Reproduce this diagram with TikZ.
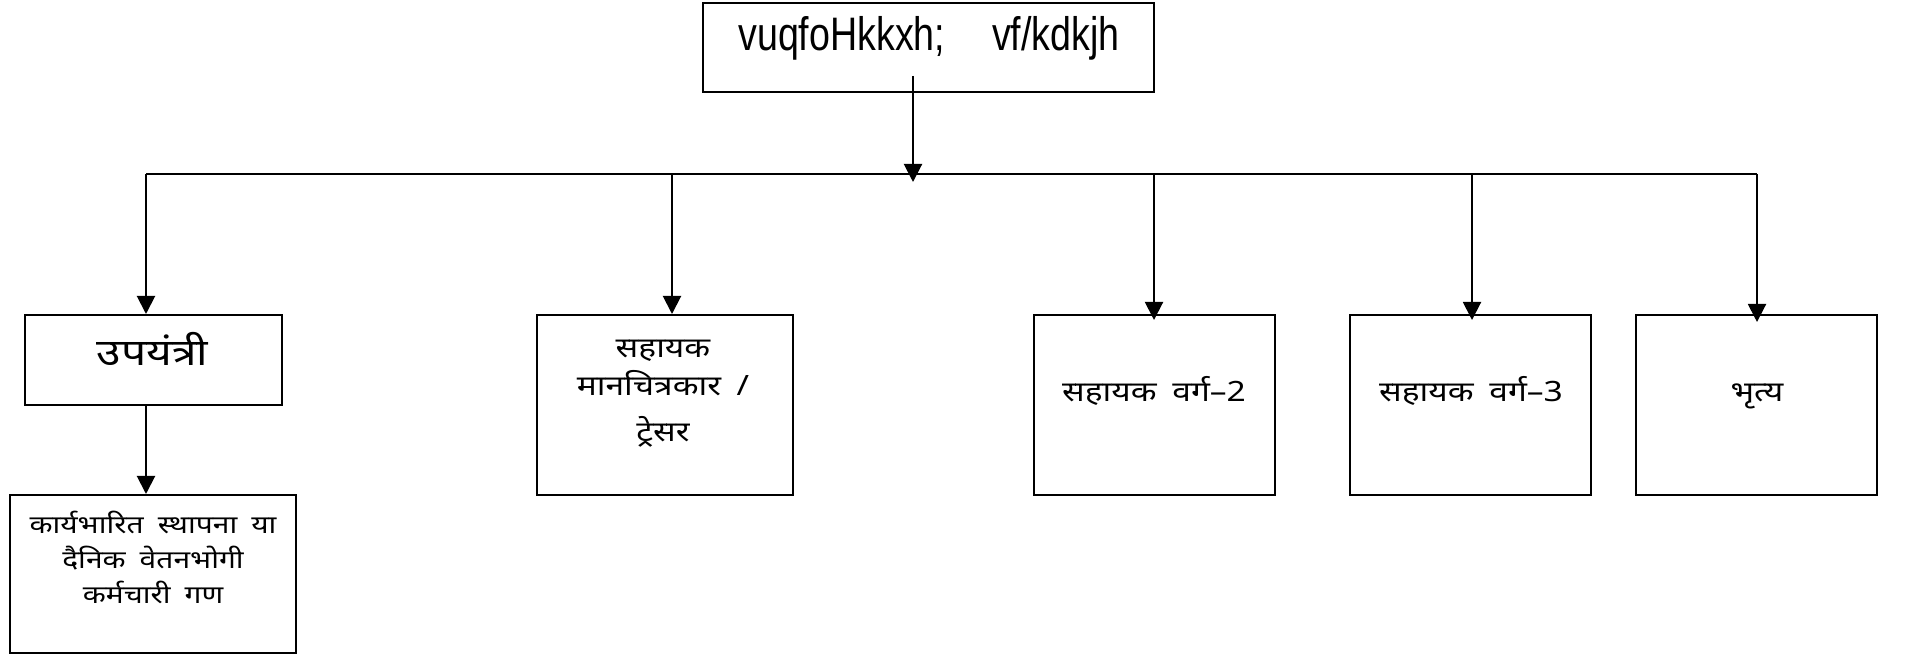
\documentclass[tikz,border=0pt]{standalone}
\usepackage{fontspec}
\setmainfont{Liberation Sans}
\newfontfamily\topfont[FakeStretch=0.8]{Liberation Sans}
\newfontfamily\hindi[Script=Devanagari, FakeStretch=1.2, WordSpace=1.8]{Noto Sans}
\usetikzlibrary{arrows.meta,positioning}

\tikzset{
  box/.style={draw, line width=1pt, inner sep=0pt},
  arr/.style={line width=1pt, -{Triangle[width=9pt,length=9pt]}},
  hin/.style={font=\hindi\fontsize{14}{19}\selectfont, align=center, inner sep=0pt},
  hinsmall/.style={font=\hindi\fontsize{12.5}{17.5}\selectfont, align=center, inner sep=0pt}
}

\begin{document}
\begin{tikzpicture}[x=0.5pt,y=-0.5pt]
  \useasboundingbox (0,0) rectangle (1906,657);

  % boxes
  \node[box, minimum width=225.5pt, minimum height=44.5pt] (top) at (928.5,47.5) {};
  \node[box, minimum width=128.5pt, minimum height=45pt] (upa) at (153.5,360) {};
  \node[box, minimum width=143pt, minimum height=79pt] (kary) at (153,574) {};
  \node[box, minimum width=128pt, minimum height=90pt] (tracer) at (665,405) {};
  \node[box, minimum width=120.5pt, minimum height=90pt] (varg2) at (1154.5,405) {};
  \node[box, minimum width=120.5pt, minimum height=90pt] (varg3) at (1470.5,405) {};
  \node[box, minimum width=120.5pt, minimum height=90pt] (bhritya) at (1756.5,405) {};

  % labels
  \node[anchor=base, inner sep=0pt, font=\topfont\fontsize{23.5}{26}\selectfont] (toptxt) at (929,51) {vuqfoHkkxh;\hspace{1em}vf/kdkjh};
  \node[hin, anchor=base, font=\hindi\fontsize{18.5}{20}\selectfont] (upatxt) at (152.5,366) {उपयंत्री};
  \node[hinsmall, anchor=north] (karytxt) at (153,511) {कार्यभारित स्थापना या\\दैनिक वेतनभोगी\\कर्मचारी गण};
  \node[hin, anchor=north] (tracertxt) at (663,340) {सहायक\\मानचित्रकार /\\[4pt]ट्रेसर};
  \node[hin, anchor=base] (varg2txt) at (1154,402) {सहायक वर्ग–2};
  \node[hin, anchor=base] (varg3txt) at (1471,402) {सहायक वर्ग–3};
  \node[hin, anchor=base] (bhrityatxt) at (1757,402) {भृत्य};

  % bus
  \coordinate (hub) at (913,174);
  \coordinate (b1) at (146,174);
  \coordinate (b2) at (672,174);
  \coordinate (b3) at (1154,174);
  \coordinate (b4) at (1472,174);
  \coordinate (b5) at (1757,174);

  \draw[arr] ([yshift=8.5pt]top.south -| hub) -- ([yshift=-4pt]hub);
  \draw[line width=1pt] (b1) -- (b5);

  \draw[arr] (b1) -- (b1 |- upa.north);
  \draw[arr] (b2) -- (b2 |- tracer.north);
  \draw[arr] (b3) -- ([yshift=-3pt]b3 |- varg2.north);
  \draw[arr] (b4) -- ([yshift=-3pt]b4 |- varg3.north);
  \draw[arr] (b5) -- ([yshift=-4pt]b5 |- bhritya.north);
  \draw[arr] (b1 |- upa.south) -- (b1 |- kary.north);
\end{tikzpicture}
\end{document}
